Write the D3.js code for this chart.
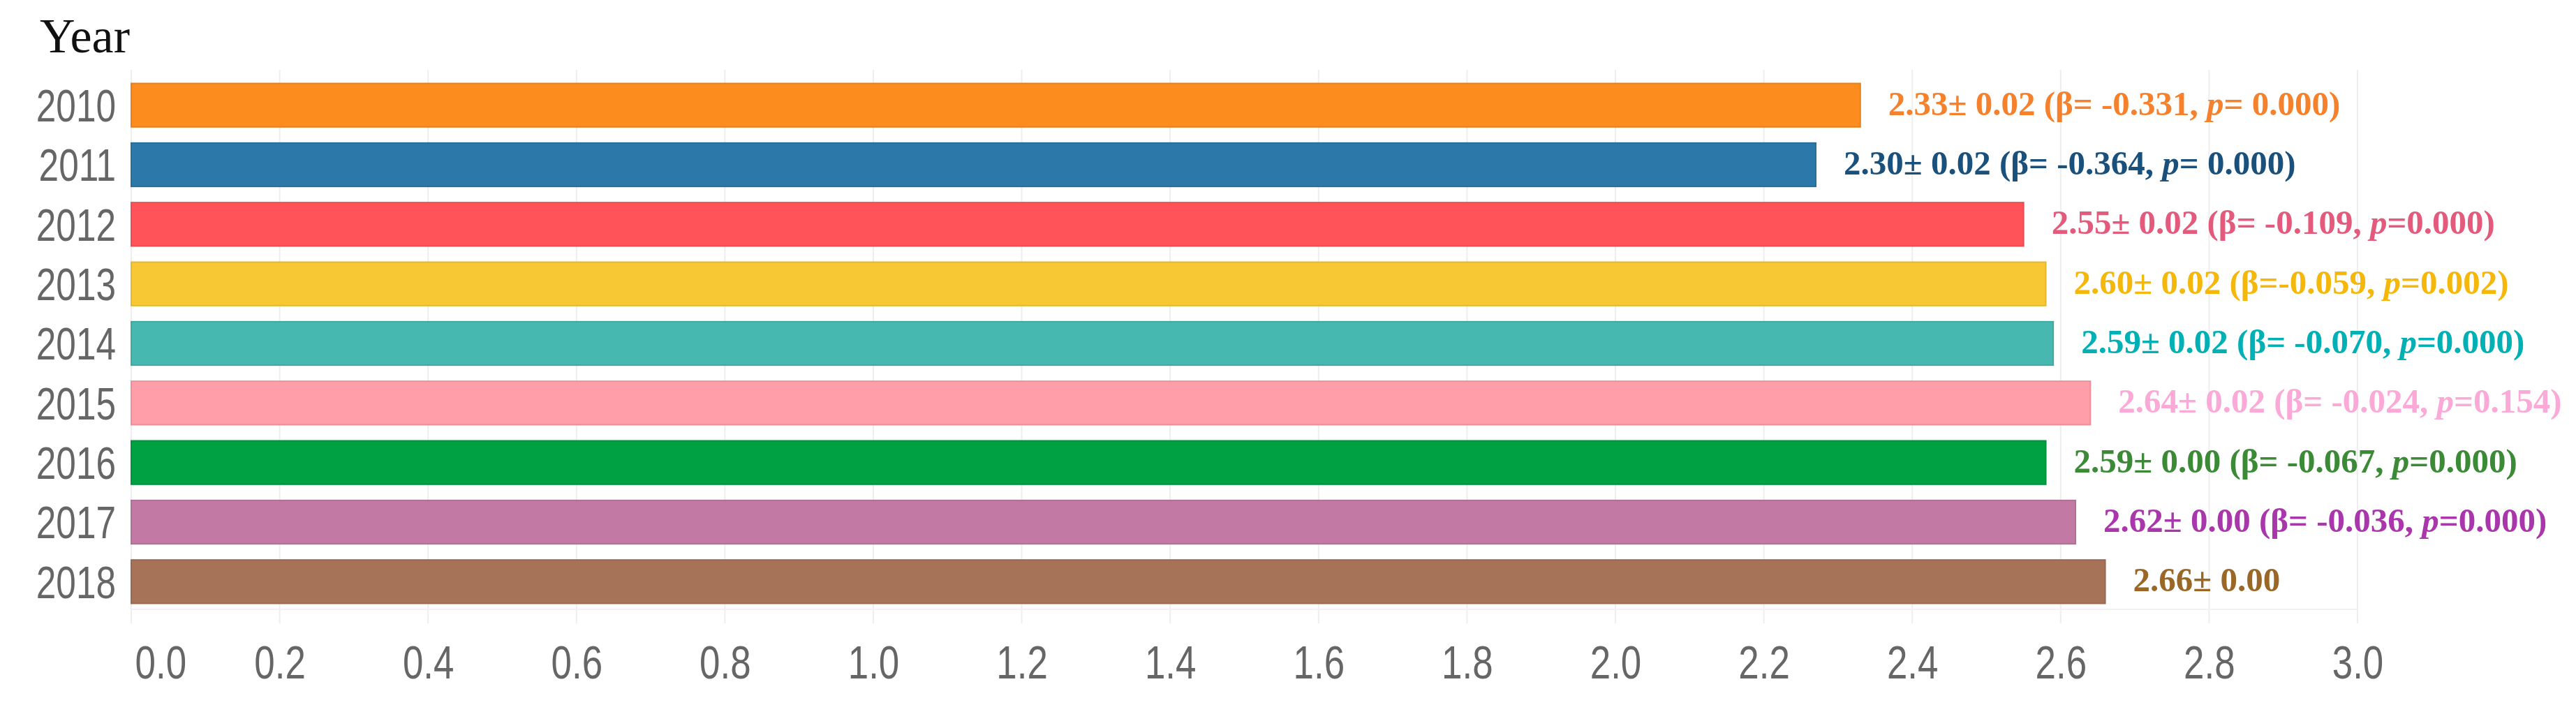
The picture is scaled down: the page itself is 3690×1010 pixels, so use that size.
<!DOCTYPE html>
<html>
<head>
<meta charset="utf-8">
<script src="https://cdn.jsdelivr.net/npm/d3@7"></script>
<style>
  html, body { margin: 0; padding: 0; background: #fff; }
  svg { display: block; }
</style>
</head>
<body>
<script>
// ---- data ----
const years = ["2010", "2011", "2012", "2013", "2014", "2015", "2016", "2017", "2018"];
const barValues = [2.33, 2.27, 2.55, 2.58, 2.59, 2.64, 2.58, 2.62, 2.66];
const means = ["2.33", "2.30", "2.55", "2.60", "2.59", "2.64", "2.59", "2.62", "2.66"];
const sds = ["0.02", "0.02", "0.02", "0.02", "0.02", "0.02", "0.00", "0.00", "0.00"];
const betaTexts = ["= -0.331", "= -0.364", "= -0.109", "=-0.059", "= -0.070", "= -0.024", "= -0.067", "= -0.036", null];
const pTexts = ["= 0.000", "= 0.000", "=0.000", "=0.002", "=0.000", "=0.154", "=0.000", "=0.000", null];
const xTicks = [0, 0.2, 0.4, 0.6, 0.8, 1.0, 1.2, 1.4, 1.6, 1.8, 2.0, 2.2, 2.4, 2.6, 2.8, 3.0];
const barColors = ["#FD8C1E", "#2C78A8", "#FF5359", "#F8C834", "#47B8B0", "#FF9DA8", "#00A142", "#C27AA4", "#A67358"];
const textColors = ["#F5812C", "#1A517C", "#E45A7C", "#F5B80A", "#00B0B4", "#FBAAD8", "#3A8A36", "#A936AA", "#9A6726"];

// ---- layout ----
const W = 3690, H = 1010;
const svg = d3.select("body").append("svg").attr("width", W).attr("height", H);

const x = d3.scaleLinear().domain([0, 3.0]).range([188, 3377]);
const y = d3.scaleBand().domain(years).range([108, 876]).paddingInner(0.27).paddingOuter(0.135);

const sans = "'Liberation Sans', Arial, sans-serif";
const serif = "'Liberation Serif', 'Times New Roman', serif";
const narrow = 0.79;

function condense(sel) {
  sel.each(function() {
    const len = this.getComputedTextLength();
    d3.select(this).attr("textLength", len * narrow).attr("lengthAdjust", "spacingAndGlyphs");
  });
}

// gridlines
svg.append("g").selectAll("line").data(xTicks).join("line")
  .attr("x1", d => x(d)).attr("x2", d => x(d))
  .attr("y1", 100).attr("y2", 893)
  .attr("stroke", "#eeeeee").attr("stroke-width", 2);

// faint row separator at bottom
svg.append("line").attr("x1", x(0)).attr("x2", x(3.0)).attr("y1", 873).attr("y2", 873)
  .attr("stroke", "#f2f2f2").attr("stroke-width", 2);

// bars
svg.append("g").selectAll("rect").data(years).join("rect")
  .attr("x", x(0))
  .attr("y", d => y(d))
  .attr("width", (d, i) => x(barValues[i]) - x(0))
  .attr("height", y.bandwidth())
  .attr("fill", (d, i) => barColors[i])
  .attr("stroke", (d, i) => d3.color(barColors[i]).darker(0.25))
  .attr("stroke-width", 2);

// y-axis labels
const yAxis = d3.axisLeft(y).tickSize(0).tickPadding(0);
const gy = svg.append("g").attr("transform", "translate(166,0)").call(yAxis);
gy.select(".domain").remove();
gy.selectAll("text")
  .attr("font-family", sans).attr("font-size", 65).attr("fill", "#666")
  .attr("dy", "0.36em")
  .call(condense);

// x-axis labels
const xAxis = d3.axisBottom(x).tickValues(xTicks).tickFormat(d3.format(".1f")).tickSize(0).tickPadding(0);
const gx = svg.append("g").attr("transform", "translate(0,972)").call(xAxis);
gx.select(".domain").remove();
gx.selectAll("text")
  .attr("font-family", sans).attr("font-size", 67).attr("fill", "#666")
  .attr("dy", 0).attr("y", 0)
  .call(condense);
gx.selectAll(".tick").filter(d => d === 0).select("text")
  .attr("text-anchor", "start").attr("x", 5);

// title
svg.append("text").attr("x", 57).attr("y", 75)
  .attr("font-family", serif).attr("font-size", 70).attr("fill", "#111")
  .attr("font-weight", 500)
  .text("Year");

// value labels
const lbl = svg.append("g").selectAll("text").data(years).join("text")
  .attr("x", (d, i) => x(barValues[i]) + 40)
  .attr("y", d => y(d) + y.bandwidth() / 2 + 14)
  .attr("font-family", serif).attr("font-size", 49).attr("font-weight", "bold")
  .attr("fill", (d, i) => textColors[i]);

lbl.each(function(d, i) {
  const t = d3.select(this);
  t.append("tspan").text(`${means[i]}\u00B1 ${sds[i]}`);
  if (betaTexts[i]) {
    t.append("tspan").text(` (\u03B2${betaTexts[i]}, `);
    t.append("tspan").attr("font-style", "italic").text("p");
    t.append("tspan").text(`${pTexts[i]})`);
  }
});
</script>
</body>
</html>
